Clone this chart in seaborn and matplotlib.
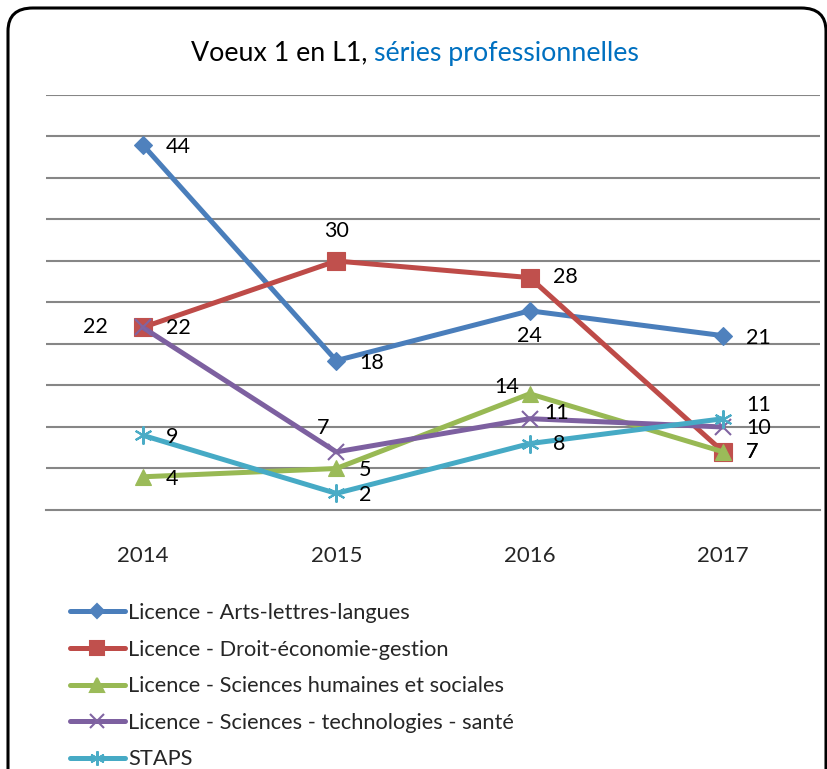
import matplotlib
matplotlib.use("Agg")
import matplotlib.pyplot as plt
from matplotlib.patches import FancyBboxPatch
from matplotlib.lines import Line2D
import seaborn as sns
import pandas as pd

years = ["2014", "2015", "2016", "2017"]
series_names = [
    "Licence - Arts-lettres-langues",
    "Licence - Droit-économie-gestion",
    "Licence - Sciences humaines et sociales",
    "Licence - Sciences - technologies - santé",
    "STAPS",
]
arts = [44, 18, 24, 21]
droit = [22, 30, 28, 7]
shs = [4, 5, 14, 7]
sts = [22, 7, 11, 10]
staps = [9, 2, 8, 11]
values = [arts, droit, shs, sts, staps]

line_colors = ["#4A7EBB", "#BE4B48", "#98B954", "#7D60A0", "#46AAC5"]
marker_colors = ["#4F81BD", "#C0504D", "#9BBB59", "#8064A2", "#4BACC6"]
markers = ["D", "s", "^", "x", (6, 2, 0)]
marker_sizes = [9.5, 13, 12, 12, 13]

# label offsets in pixels (dx, dy) and horizontal alignment, per series and year
label_pos = [
    [(23, -2, "left"), (23, -2, "left"), (0, -25, "center"), (23, -2, "left")],
    [(-35, 0, "right"), (0, 30, "center"), (23, 1, "left"), (23, 0, "left")],
    [(23, -2, "left"), (23, -2, "left"), (-11, 7, "right"), (23, 0, "left")],
    [(23, -1, "left"), (-13, 24, "center"), (15, 6, "left"), (23, -1, "left")],
    [(23, -2, "left"), (23, -2, "left"), (23, 0, "left"), (23, 14, "left")],
]

FONT = "Lato"

df = pd.DataFrame({
    "pos": list(range(len(years))) * len(series_names),
    "valeur": [v for s in values for v in s],
    "serie": [n for n in series_names for _ in years],
})

sns.set_style("white")
plt.rcParams["font.family"] = [FONT, "DejaVu Sans"]

fig = plt.figure(figsize=(8.28, 7.69), dpi=100)
ax = fig.add_axes([46 / 828, 1 - 510 / 769, (820 - 46) / 828, (510 - 95) / 769])

for i, name in enumerate(series_names):
    sub = df[df["serie"] == name]
    sns.lineplot(data=sub, x="pos", y="valeur", ax=ax, color=line_colors[i],
                 linewidth=3.6, marker=markers[i], markersize=marker_sizes[i],
                 markerfacecolor=marker_colors[i], markeredgecolor=marker_colors[i],
                 markeredgewidth=1.5 if i >= 3 else 0.8, legend=False, zorder=3 + i)

ax.set_xlim(-0.5, 3.5)
ax.set_ylim(0, 50)
ax.set_yticks(range(5, 51, 5))
ax.set_yticklabels([])
ax.tick_params(axis="y", length=0)
ax.grid(axis="y", color="#868686", linewidth=1.5)
ax.set_axisbelow(True)
for side in ["left", "right", "top"]:
    ax.spines[side].set_visible(False)
ax.spines["bottom"].set_color("#868686")
ax.spines["bottom"].set_linewidth(1.5)
ax.set_xticks(range(len(years)))
ax.set_xticklabels(years, fontsize=16)
ax.tick_params(axis="x", which="major", length=0, pad=26)
ax.set_xticks([-0.5, 0.5, 1.5, 2.5, 3.5], minor=True)
ax.tick_params(axis="x", which="minor", length=7, width=1.5, color="#868686")
ax.set_xlabel("")
ax.set_ylabel("")

for i, s in enumerate(values):
    for j, v in enumerate(s):
        dx, dy, ha = label_pos[i][j]
        ax.annotate(str(v), (j, v), xytext=(dx, dy), textcoords="offset pixels",
                    ha=ha, va="center", fontsize=15.5, color="black", zorder=10)

# title in two colours
fig.canvas.draw()
renderer = fig.canvas.get_renderer()
t1 = fig.text(0, 1 - 53 / 769, "Voeux 1 en L1, ", fontsize=19.3, color="black", va="center")
t2 = fig.text(0, 1 - 53 / 769, "séries professionnelles", fontsize=19.3, color="#0070C0", va="center")
w1 = t1.get_window_extent(renderer).width
w2 = t2.get_window_extent(renderer).width
x0 = 415 - (w1 + w2) / 2
t1.set_x(x0 / 828)
t2.set_x((x0 + w1) / 828)

handles = [Line2D([0], [0], color=line_colors[i], linewidth=3.6, marker=markers[i],
                  markersize=marker_sizes[i] * 0.8, markerfacecolor=marker_colors[i],
                  markeredgecolor=marker_colors[i], markeredgewidth=1.5)
           for i in range(len(series_names))]
fig.legend(handles, series_names, loc="upper left", bbox_to_anchor=(70 / 828, 1 - 603 / 769),
           frameon=False, fontsize=15.7, handlelength=2.52, handletextpad=0.15,
           labelspacing=0.76, borderaxespad=0, borderpad=0)

border = FancyBboxPatch((8 / 828, -0.05), (826 - 8) / 828, (769 - 8) / 769 + 0.05,
                        boxstyle="round,pad=0,rounding_size=0.03", transform=fig.transFigure,
                        fill=False, edgecolor="black", linewidth=2.2, clip_on=False)
fig.patches.append(border)

fig.savefig("out.png", dpi=100)
